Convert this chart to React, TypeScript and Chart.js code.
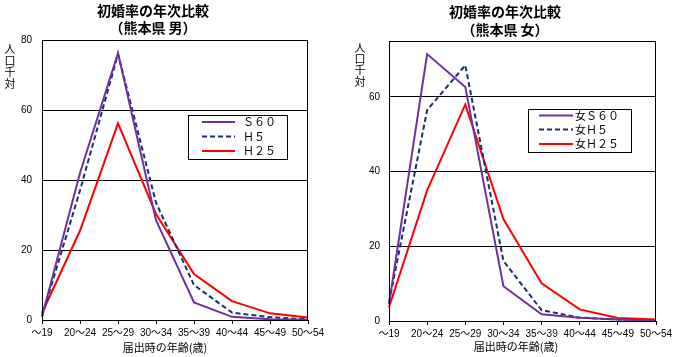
import React, { useEffect, useRef } from 'react';
import { Chart, registerables } from 'chart.js';
Chart.register(...registerables);

const categories = ['〜19', '20〜24', '25〜29', '30〜34', '35〜39', '40〜44', '45〜49', '50〜54'];
const maleS60 = [1, 42, 76.3, 28.5, 5, 0.9, 0.2, 0.1];
const maleH5 = [1, 37, 76, 33.5, 10, 2.1, 0.8, 0.2];
const maleH25 = [2, 25.5, 56.2, 30.3, 13.1, 5.4, 1.9, 0.7];
const femaleS60 = [4.5, 71.5, 62.7, 9.3, 1.8, 0.9, 0.4, 0.1];
const femaleH5 = [5, 56.5, 68.5, 16.1, 2.9, 0.9, 0.4, 0.1];
const femaleH25 = [3.7, 35, 58, 27.3, 10.1, 3.1, 0.8, 0.4];
const maleLegend = ['Ｓ６０', 'Ｈ５', 'Ｈ２５'];
const femaleLegend = ['女Ｓ６０', '女Ｈ５', '女Ｈ２５'];
const maleTitle = ['初婚率の年次比較', '（熊本県 男）'];
const femaleTitle = ['初婚率の年次比較', '（熊本県 女）'];
const yAxisLabel = ['人', '口', '千', '対'];
const xAxisTitle = '届出時の年齢(歳)';
const yTicksShown = [0, 20, 40, 60];

const COLORS = ['#7030A0', '#14306A', '#FF0000'];
const DASHES = [[], [5, 3], []];
const FONT = "'Liberation Sans', 'Noto Sans CJK JP', sans-serif";
const CJK = "'Noto Sans CJK JP', sans-serif";

type Cfg = {
  width: number;
  area: { left: number; right: number; top: number; bottom: number };
  yMax: number;
  yPad: number;
  series: number[][];
  legendLabels: string[];
  title: string[];
  titleX: number;
  titleY: number[];
  yLabelX: number;
  yLabelY: number[];
  xTitleX: number;
  xTitleY: number;
  legend: { x: number; y: number; w: number; h: number; rows: number[]; l1: number; l2: number; tx: number };
};

const decor = {
  id: 'decor',
  afterDraw(chart: any, _a: any, o: any) {
    const cfg: Cfg = o.cfg;
    const ctx = chart.ctx;
    const ca = chart.chartArea;
    ctx.save();
    // frame
    ctx.strokeStyle = '#000';
    ctx.lineWidth = 1;
    ctx.setLineDash([]);
    ctx.strokeRect(Math.round(ca.left) + 0.5, Math.round(ca.top) + 0.5, Math.round(ca.right - ca.left) - 1, Math.round(ca.bottom - ca.top));
    // titles
    ctx.fillStyle = '#000';
    ctx.textAlign = 'center';
    ctx.textBaseline = 'middle';
    ctx.font = `bold 14px ${CJK}`;
    cfg.title.forEach((t, i) => ctx.fillText(t, cfg.titleX, cfg.titleY[i]));
    // y label
    ctx.font = `11px ${CJK}`;
    yAxisLabel.forEach((c, i) => ctx.fillText(c, cfg.yLabelX, cfg.yLabelY[i]));
    // x title
    ctx.font = `11px ${CJK}`;
    ctx.fillText(xAxisTitle, cfg.xTitleX, cfg.xTitleY);
    // legend
    const L = cfg.legend;
    ctx.fillStyle = '#fff';
    ctx.fillRect(L.x, L.y, L.w, L.h);
    ctx.strokeStyle = '#000';
    ctx.lineWidth = 1;
    ctx.strokeRect(L.x + 0.5, L.y + 0.5, L.w, L.h);
    chart.data.datasets.forEach((ds: any, i: number) => {
      const y = L.rows[i];
      ctx.strokeStyle = ds.borderColor;
      ctx.lineWidth = 2;
      ctx.setLineDash(ds.borderDash || []);
      ctx.beginPath();
      ctx.moveTo(L.l1, y);
      ctx.lineTo(L.l2, y);
      ctx.stroke();
      ctx.setLineDash([]);
      ctx.fillStyle = '#000';
      ctx.textAlign = 'left';
      ctx.font = `11px ${CJK}`;
      ctx.fillText(ds.label, L.tx, y);
    });
    ctx.restore();
  },
};

function LineChart({ cfg }: { cfg: Cfg }) {
  const ref = useRef<HTMLCanvasElement>(null);
  useEffect(() => {
    const H = 357;
    const chart = new Chart(ref.current as HTMLCanvasElement, {
      type: 'line',
      data: {
        labels: categories,
        datasets: cfg.series.map((s, i) => ({
          label: cfg.legendLabels[i],
          data: s,
          borderColor: COLORS[i],
          backgroundColor: COLORS[i],
          borderWidth: 2,
          borderDash: DASHES[i],
          pointRadius: 0,
          tension: 0,
          fill: false,
        })),
      },
      options: {
        animation: false,
        responsive: false,
        devicePixelRatio: 1,
        layout: { padding: { top: cfg.area.top, right: cfg.width - cfg.area.right, left: 0, bottom: 0 } },
        plugins: { legend: { display: false }, tooltip: { enabled: false }, decor: { cfg } } as any,
        scales: {
          x: {
            offset: false,
            grid: { drawOnChartArea: false, drawTicks: true, tickLength: 4, color: '#000' },
            border: { color: '#000' },
            ticks: { autoSkip: false, maxRotation: 0, minRotation: 0, padding: 3, color: '#000', font: { size: 10, family: FONT } },
            afterFit: (s: any) => { s.height = H - cfg.area.bottom; },
          },
          y: {
            min: 0,
            max: cfg.yMax,
            afterBuildTicks: (s: any) => {
              const t = cfg.yMax === 80 ? [...yTicksShown, 80] : yTicksShown;
              s.ticks = t.map((v) => ({ value: v }));
            },
            grid: { color: '#000', drawTicks: false },
            border: { color: '#000' },
            ticks: { padding: cfg.yPad, color: '#000', font: { size: 10, family: FONT } },
            afterFit: (s: any) => { s.width = cfg.area.left; },
          },
        },
      },
      plugins: [decor],
    } as any);
    return () => chart.destroy();
  }, []);
  return <canvas ref={ref} width={cfg.width} height={357} style={{ display: 'block' }} />;
}

const leftCfg: Cfg = {
  width: 340,
  area: { left: 42, right: 308, top: 40, bottom: 320 },
  yMax: 80,
  yPad: 10,
  series: [maleS60, maleH5, maleH25],
  legendLabels: maleLegend,
  title: maleTitle,
  titleX: 153,
  titleY: [11, 28],
  yLabelX: 10,
  yLabelY: [49, 61, 72, 84],
  xTitleX: 165,
  xTitleY: 348,
  legend: { x: 188, y: 115, w: 99, h: 44, rows: [122, 136.5, 151], l1: 202, l2: 235, tx: 243 },
};

const rightCfg: Cfg = {
  width: 343,
  area: { left: 49, right: 316, top: 41, bottom: 321 },
  yMax: 75,
  yPad: 9,
  series: [femaleS60, femaleH5, femaleH25],
  legendLabels: femaleLegend,
  title: femaleTitle,
  titleX: 165,
  titleY: [11.5, 29.5],
  yLabelX: 20,
  yLabelY: [48, 58.5, 69.5, 82],
  xTitleX: 176,
  xTitleY: 347,
  legend: { x: 188, y: 109, w: 103, h: 43, rows: [115.5, 129.5, 144], l1: 199, l2: 233, tx: 235 },
};

export default function App() {
  return (
    <div style={{ position: 'fixed', left: 0, top: 0, width: 683, height: 357, background: '#fff', display: 'flex' }}>
      <LineChart cfg={leftCfg} />
      <LineChart cfg={rightCfg} />
    </div>
  );
}
